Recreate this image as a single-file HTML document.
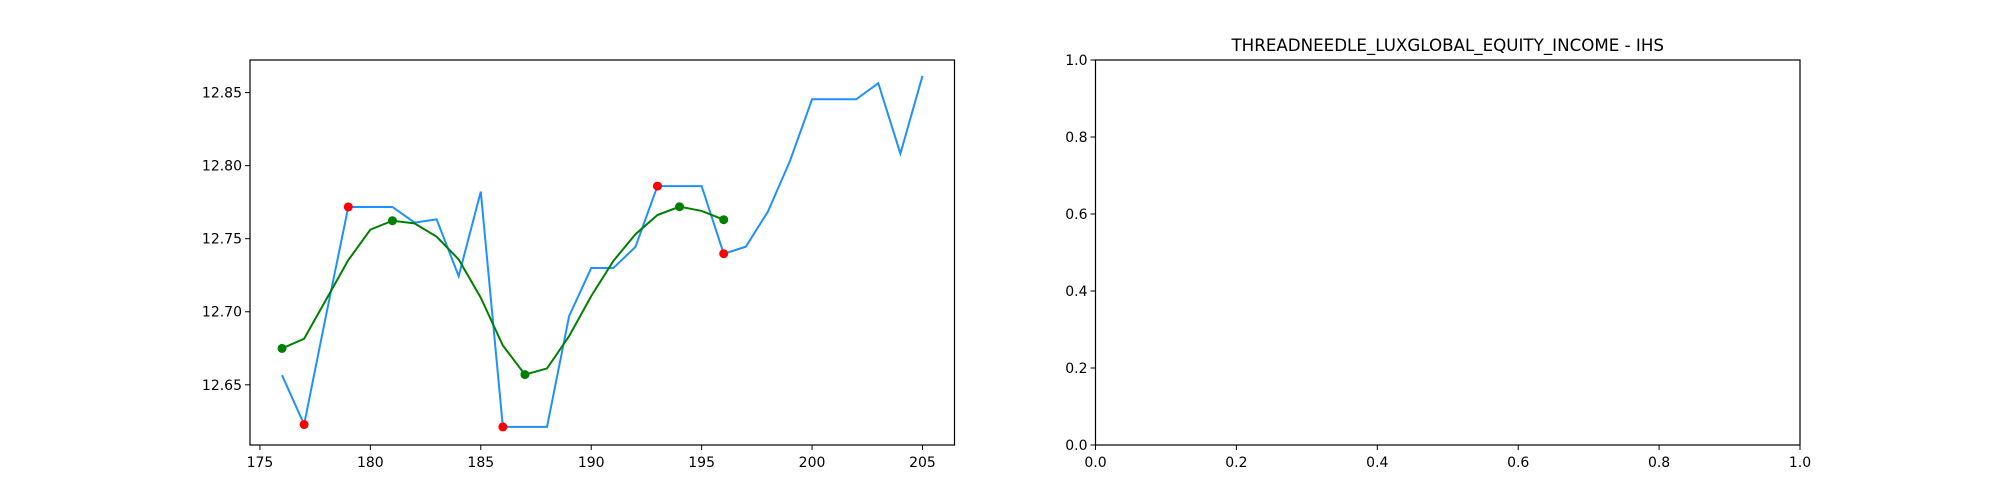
<!DOCTYPE html>
<html><head><meta charset="utf-8"><style>
body{margin:0;background:#fff}
svg{display:block;font-family:"DejaVu Sans","Liberation Sans",sans-serif}
</style></head><body>
<svg id="fig" width="2000" height="500" viewBox="0 0 2000 500">
<rect width="2000" height="500" fill="#fff"/>
<g id="left"></g>
<g id="right"></g>
</svg>
<script>
const xs = [176,177,178,179,180,181,182,183,184,185,186,187,188,189,190,191,192,193,194,195,196,197,198,199,200,201,202,203,204,205];
const priceValues = [12.6566,12.6228,12.698,12.7717,12.7717,12.7717,12.761,12.7632,12.7244,12.7822,12.6212,12.6212,12.6212,12.697,12.7299,12.7299,12.7443,12.786,12.786,12.786,12.7397,12.7445,12.7685,12.8032,12.8454,12.8454,12.8454,12.8564,12.8082,12.8614];
const smoothX = [176,177,178,179,180,181,182,183,184,185,186,187,188,189,190,191,192,193,194,195,196];
const smoothValues = [12.6749,12.6815,12.7084,12.7353,12.7562,12.7623,12.7605,12.7514,12.7358,12.7096,12.6769,12.657,12.6612,12.6833,12.7107,12.7347,12.753,12.7662,12.7719,12.769,12.763];
const redIdx = [177,179,186,193,196];
const greenIdx = [176,181,187,194,196];
const xTicks = [175,180,185,190,195,200,205];
const yTicks = [12.65,12.70,12.75,12.80,12.85];
const rTicks = [0.0,0.2,0.4,0.6,0.8,1.0];
const rightTitle = "THREADNEEDLE_LUXGLOBAL_EQUITY_INCOME - IHS";

const NS="http://www.w3.org/2000/svg";
function mk(parent,tag,attrs){const e=document.createElementNS(NS,tag);for(const k in attrs)e.setAttribute(k,attrs[k]);parent.appendChild(e);return e;}

// left axes
const L={x0:250,x1:954.5,y0:60,y1:445};
const xmin=174.55,xmax=206.45,ymin=12.6088,ymax=12.8723;
const sx=v=>L.x0+(v-xmin)/(xmax-xmin)*(L.x1-L.x0);
const sy=v=>L.y1-(v-ymin)/(ymax-ymin)*(L.y1-L.y0);
const lg=document.getElementById('left');

let pts=xs.map((x,i)=>sx(x)+','+sy(priceValues[i])).join(' ');
let pl=mk(lg,'polyline',{points:pts,fill:'none',stroke:'#1e90ff','stroke-width':2});


let gp=smoothX.map((x,i)=>sx(x)+','+sy(smoothValues[i])).join(' ');
let gl=mk(lg,'polyline',{points:gp,fill:'none',stroke:'green','stroke-width':2});


redIdx.forEach(x=>{const i=xs.indexOf(x);const c=mk(lg,'circle',{cx:sx(x),cy:sy(priceValues[i]),r:4.5,fill:'red'});

});
greenIdx.forEach(x=>{const i=smoothX.indexOf(x);const c=mk(lg,'circle',{cx:sx(x),cy:sy(smoothValues[i]),r:4.5,fill:'green'});

});
let fr=mk(lg,'rect',{x:L.x0,y:L.y0,width:L.x1-L.x0,height:L.y1-L.y0,fill:'none',stroke:'#000','stroke-width':1.2});


xTicks.forEach(t=>{const x=sx(t);mk(lg,'line',{x1:x,x2:x,y1:L.y1,y2:L.y1+5,stroke:'#000'});
const tx=mk(lg,'text',{x:x,y:L.y1+22,'font-size':14,'text-anchor':'middle'});tx.textContent=t;

});
yTicks.forEach(t=>{const y=sy(t);mk(lg,'line',{x1:L.x0-5,x2:L.x0,y1:y,y2:y,stroke:'#000'});
const tx=mk(lg,'text',{x:L.x0-8,y:y+5,'font-size':14,'text-anchor':'end'});tx.textContent=t.toFixed(2);

});

// right axes
const R={x0:1095.5,x1:1800,y0:60,y1:445};
const rg=document.getElementById('right');
const rx=v=>R.x0+v*(R.x1-R.x0), ry=v=>R.y1-v*(R.y1-R.y0);
let rf=mk(rg,'rect',{x:R.x0,y:R.y0,width:R.x1-R.x0,height:R.y1-R.y0,fill:'none',stroke:'#000','stroke-width':1.2});


rTicks.forEach(t=>{const x=rx(t),y=ry(t);
mk(rg,'line',{x1:x,x2:x,y1:R.y1,y2:R.y1+5,stroke:'#000'});
const a=mk(rg,'text',{x:x,y:R.y1+22,'font-size':14,'text-anchor':'middle'});a.textContent=t.toFixed(1);


mk(rg,'line',{x1:R.x0-5,x2:R.x0,y1:y,y2:y,stroke:'#000'});
const b=mk(rg,'text',{x:R.x0-8,y:y+5,'font-size':14,'text-anchor':'end'});b.textContent=t.toFixed(1);

});
const tt=mk(rg,'text',{x:(R.x0+R.x1)/2,y:51,'font-size':16.7,'text-anchor':'middle'});tt.textContent=rightTitle;


</script>
</body></html>
